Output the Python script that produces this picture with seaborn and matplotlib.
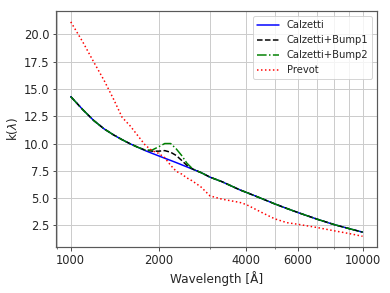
import numpy as np
import pandas as pd
import matplotlib
matplotlib.use('agg')
import matplotlib.pyplot as plt
import matplotlib.ticker as mticker
import seaborn as sns

# wavelengths in Angstrom
wl = [1000, 1100, 1200, 1300, 1400, 1500, 1600, 1700, 1800, 1900, 2000,
      2100, 2200, 2300, 2400, 2500, 2600, 2700, 2800, 3000, 3300, 3800, 4000,
      4500, 5000, 5500, 6000, 7000, 8000, 9000, 10000]

calzetti = [14.3, 13.1, 12.1, 11.35, 10.8, 10.35, 9.97, 9.65, 9.35, 9.1, 8.87,
            8.65, 8.45, 8.25, 8.05, 7.86, 7.68, 7.5, 7.33, 6.92, 6.5, 5.75, 5.52,
            4.97, 4.47, 4.05, 3.68, 3.06, 2.57, 2.2, 1.88]

bump1 = [14.3, 13.1, 12.1, 11.35, 10.8, 10.35, 9.97, 9.65, 9.4, 9.3, 9.3,
         9.35, 9.2, 8.9, 8.45, 8.0, 7.7, 7.5, 7.33, 6.92, 6.5, 5.75, 5.52,
         4.97, 4.47, 4.05, 3.68, 3.06, 2.57, 2.2, 1.88]

bump2 = [14.3, 13.1, 12.1, 11.35, 10.8, 10.35, 9.97, 9.65, 9.4, 9.4, 9.7,
         10.0, 10.0, 9.5, 8.9, 8.2, 7.75, 7.5, 7.33, 6.92, 6.5, 5.75, 5.52,
         4.97, 4.47, 4.05, 3.68, 3.06, 2.57, 2.2, 1.88]

prevot = [21.15, 19.3, 17.45, 15.8, 14.1, 12.4, 11.6, 10.7, 9.85, 9.35, 9.1,
          8.7, 8.0, 7.45, 7.2, 6.85, 6.6, 6.3, 6.0, 5.2, 4.9, 4.6, 4.4,
          3.7, 3.1, 2.75, 2.6, 2.3, 2.0, 1.75, 1.5]

series = [("Calzetti", calzetti, "blue", "-"),
          ("Calzetti+Bump1", bump1, "black", "--"),
          ("Calzetti+Bump2", bump2, "green", "-."),
          ("Prevot", prevot, "red", ":")]

sns.set_style("ticks")
plt.rcParams['font.family'] = ['DejaVu Sans']

fig, ax = plt.subplots(figsize=(390 / 72, 293 / 72), dpi=72)
fig.subplots_adjust(left=0.144, right=0.967, top=0.962, bottom=0.157)

for name, vals, color, ls in series:
    df = pd.DataFrame({"wl": wl, "k": vals})
    sns.lineplot(data=df, x="wl", y="k", color=color, linestyle=ls,
                 linewidth=1.5, label=name, ax=ax)

ax.set_xscale("log")
ax.set_xticks([1000, 2000, 4000, 6000, 10000])
ax.xaxis.set_major_formatter(mticker.FuncFormatter(lambda v, p: f"{int(v)}"))
ax.xaxis.set_minor_formatter(mticker.NullFormatter())
ax.grid(True, which="both", color="0.8", linewidth=1.0)
ax.set_xlabel("Wavelength [Å]", fontsize=12)
ax.set_ylabel(r"k($\lambda$)", fontsize=12)
ax.tick_params(labelsize=11.5)
for sp in ax.spines.values():
    sp.set_color("0.35")
    sp.set_linewidth(1.2)
ax.legend(loc="upper right", fontsize=10, handlelength=2.2)

fig.savefig("out.png", dpi=72)
